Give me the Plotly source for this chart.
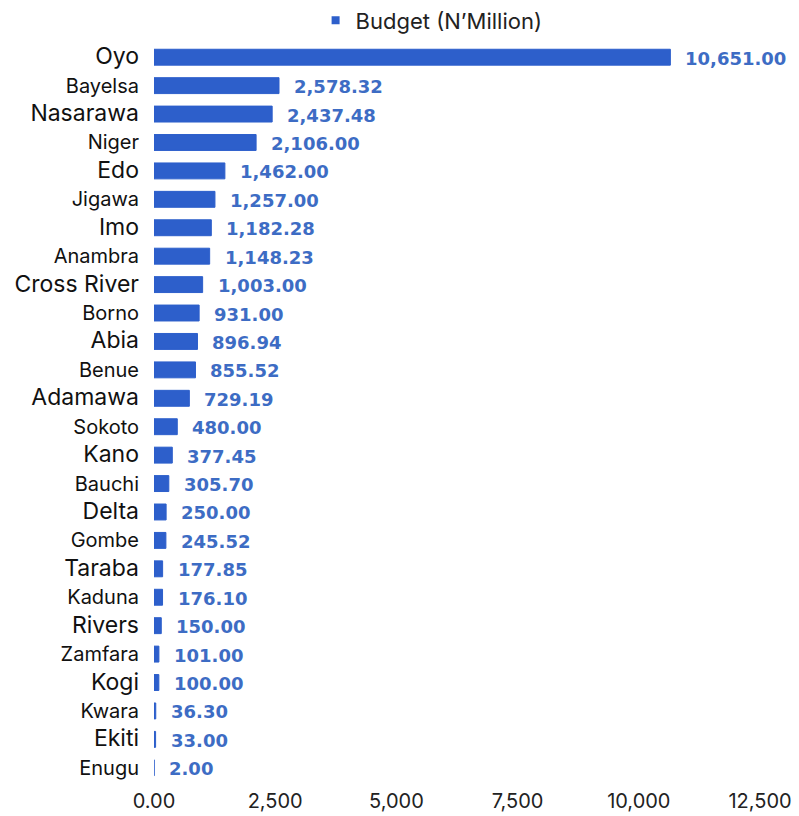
import plotly.graph_objects as go

states = ["Oyo", "Bayelsa", "Nasarawa", "Niger", "Edo", "Jigawa", "Imo", "Anambra",
          "Cross River", "Borno", "Abia", "Benue", "Adamawa", "Sokoto", "Kano", "Bauchi",
          "Delta", "Gombe", "Taraba", "Kaduna", "Rivers", "Zamfara", "Kogi", "Kwara",
          "Ekiti", "Enugu"]
budget = [10651.00, 2578.32, 2437.48, 2106.00, 1462.00, 1257.00, 1182.28, 1148.23,
          1003.00, 931.00, 896.94, 855.52, 729.19, 480.00, 377.45, 305.70,
          250.00, 245.52, 177.85, 176.10, 150.00, 101.00, 100.00, 36.30,
          33.00, 2.00]
xtick_vals = [0, 2500, 5000, 7500, 10000, 12500]
xtick_text = ["0.00", "2,500", "5,000", "7,500", "10,000", "12,500"]
series_name = "Budget (N\u2019Million)"

bar_color = "#2D5FCB"
label_color = "#3D6CC4"

# alternating label sizes as in the reference
ytick_text = []
for i, s in enumerate(states):
    size = 23 if i % 2 == 0 else 20
    ytick_text.append(f'<span style="font-size:{size}px">{s}</span>')

fig = go.Figure()
fig.add_trace(go.Bar(
    x=budget, y=states, orientation="h",
    name=series_name, showlegend=False,
    marker=dict(color=bar_color, line=dict(color=bar_color, width=1)),
    width=0.56,
))
# legend entry with a small square marker, as in the reference
fig.add_trace(go.Scatter(
    x=[None], y=[None], mode="markers", name=series_name,
    marker=dict(symbol="square", size=8, color=bar_color),
    showlegend=True, hoverinfo="skip",
))

for s, v in zip(states, budget):
    fig.add_annotation(
        x=v, y=s, text=f"<b>{v:,.2f}</b>", showarrow=False,
        xanchor="left", xshift=13, yshift=-1,
        font=dict(family="DejaVu Sans, sans-serif", size=18, color=label_color),
    )

fig.update_layout(
    width=799, height=816,
    margin=dict(l=154, r=39, t=43, b=34, autoexpand=False),
    plot_bgcolor="white", paper_bgcolor="white",
    font=dict(family="Inter, sans-serif", color="#111111"),
    showlegend=True,
    legend=dict(orientation="h", xref="container", x=0.395, xanchor="left",
                yref="container", y=0.975, yanchor="middle",
                font=dict(size=22, color="#222222"), itemwidth=30,
                traceorder="normal"),
    bargap=0.44,
)
fig.update_xaxes(range=[0, 12500], tickvals=xtick_vals, ticktext=xtick_text,
                 showgrid=False, zeroline=False, showline=False,
                 tickfont=dict(size=20, color="#222222"), ticks="",
                 ticklabelstandoff=5)
fig.update_yaxes(categoryorder="array", categoryarray=states, autorange="reversed",
                 tickvals=states, ticktext=ytick_text,
                 showgrid=False, zeroline=False, showline=False, ticks="",
                 ticklabelstandoff=14,
                 tickfont=dict(size=20, color="#111111"))

fig.write_html("out.html")
